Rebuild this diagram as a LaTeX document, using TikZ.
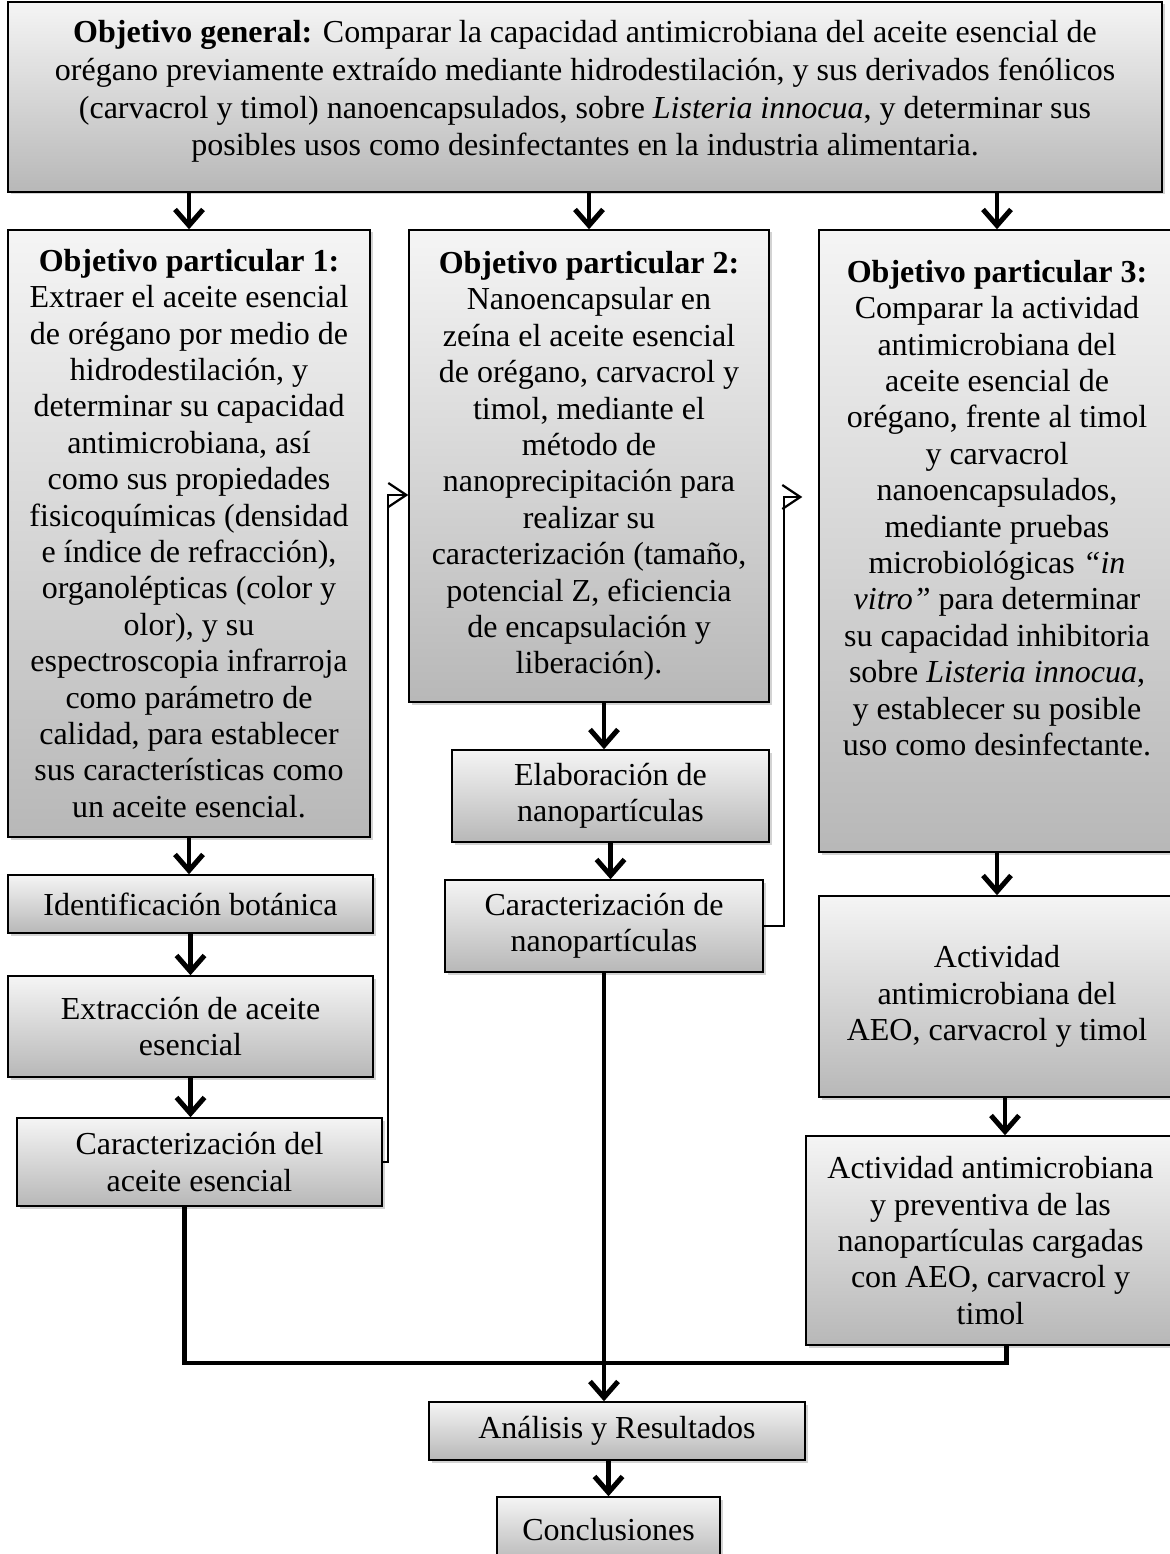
\documentclass[tikz,border=0pt]{standalone}
\usepackage{fontspec}
\setmainfont{Liberation Serif}
\usetikzlibrary{arrows.meta,shadows,calc}
\newcommand{\fsz}{\fontsize{32}{36.4}\selectfont}
\newcommand{\fszt}{\fontsize{32}{37.6}\selectfont}
\begin{document}
\begin{tikzpicture}[x=1pt,y=-1pt,
  box/.style={draw=black, line width=1.5pt, top color=black!4, bottom color=black!28,
    drop shadow={shadow xshift=2.5pt, shadow yshift=-2.5pt, opacity=0.35},
    align=center, inner sep=0pt, font=\fsz},
  arr/.style={line width=4.5pt, -{Straight Barb[length=16pt,width=28pt,line width=5pt]}},
  thinarr/.style={line width=1.6pt, -{Straight Barb[length=18pt,width=24pt,line width=2.2pt]}},
  thickline/.style={line width=4.5pt}]
\useasboundingbox (0,0) rectangle (1169,1554);

\node[box, font=\fszt, minimum width=1154pt, minimum height=190pt] (top) at (585,97)
 {\textbf{Objetivo general:} Comparar la capacidad antimicrobiana del aceite esencial de\\
  orégano previamente extraído mediante hidrodestilación, y sus derivados fenólicos\\
  (carvacrol y timol) nanoencapsulados, sobre \textit{Listeria innocua}, y determinar sus\\
  posibles usos como desinfectantes en la industria alimentaria.\\[-20pt]\mbox{}};

\node[box, minimum width=362pt, minimum height=607pt] (o1) at (189,533.5)
 {\textbf{Objetivo particular 1:}\\
  Extraer el aceite esencial\\
  de orégano por medio de\\
  hidrodestilación, y\\
  determinar su capacidad\\
  antimicrobiana, así\\
  como sus propiedades\\
  fisicoquímicas (densidad\\
  e índice de refracción),\\
  organolépticas (color y\\
  olor), y su\\
  espectroscopia infrarroja\\
  como parámetro de\\
  calidad, para establecer\\
  sus características como\\
  un aceite esencial.};

\node[box, minimum width=360pt, minimum height=472pt] (o2) at (589,466)
 {\textbf{Objetivo particular 2:}\\
  Nanoencapsular en\\
  zeína el aceite esencial\\
  de orégano, carvacrol y\\
  timol, mediante el\\
  método de\\
  nanoprecipitación para\\
  realizar su\\
  caracterización (tamaño,\\
  potencial Z, eficiencia\\
  de encapsulación y\\
  liberación).};

\node[box, minimum width=356pt, minimum height=622pt] (o3) at (997,541)
 {\textbf{Objetivo particular 3:}\\
  Comparar la actividad\\
  antimicrobiana del\\
  aceite esencial de\\
  orégano, frente al timol\\
  y carvacrol\\
  nanoencapsulados,\\
  mediante pruebas\\
  microbiológicas \textit{“in}\\
  \textit{vitro”} para determinar\\
  su capacidad inhibitoria\\
  sobre \textit{Listeria innocua},\\
  y establecer su posible\\
  uso como desinfectante.\\[30pt]\mbox{}};

\node[box, minimum width=365pt, minimum height=58pt] (ib) at (190.5,904)
 {Identificación botánica};
\node[box, minimum width=365pt, minimum height=101pt] (ext) at (190.5,1026.5)
 {Extracción de aceite\\ esencial};
\node[box, minimum width=365pt, minimum height=88pt] (c1) at (199.5,1162)
 {Caracterización del\\ aceite esencial};

\node[box, minimum width=317pt, minimum height=92pt] (elab) at (610.5,796)
 {Elaboración de\\ nanopartículas};
\node[box, minimum width=318pt, minimum height=92pt] (cn) at (604,926)
 {Caracterización de\\ nanopartículas};

\node[box, minimum width=356pt, minimum height=201pt] (act) at (997,996.5)
 {Actividad\\ antimicrobiana del\\ AEO, carvacrol y timol};
\node[box, minimum width=369pt, minimum height=209pt] (act2) at (990.5,1240.5)
 {Actividad antimicrobiana\\ y preventiva de las\\ nanopartículas cargadas\\ con AEO, carvacrol y\\ timol};

\node[box, minimum width=376pt, minimum height=58pt] (anal) at (617,1431)
 {Análisis y Resultados};
\node[box, minimum width=223pt, minimum height=66pt] (conc) at (608.5,1530)
 {Conclusiones};

% arrows from general objective
\draw[arr] (top.south -| o1.north) -- (o1.north);
\draw[arr] (top.south -| o2.north) -- (o2.north);
\draw[arr] (top.south -| o3.north) -- (o3.north);

% column 1
\draw[arr] (o1.south) -- (o1.south |- ib.north);
\draw[arr] (ib.south) -- (ib.south |- ext.north);
\draw[arr] (ext.south) -- (ext.south |- c1.north);

% column 2
\draw[arr] (o2.south -| cn.north) -- (cn.north |- elab.north);
\draw[arr] (elab.south) -- (elab.south |- cn.north);

% column 3
\draw[arr] (o3.south) -- (o3.south |- act.north);
\draw[arr] ([xshift=8pt]act.south) -- ([xshift=8pt]act.south |- act2.north);

% thin feedback connectors
\draw[thinarr] (c1.east) -- ++(5,0) |- ([yshift=-29pt]o2.west);
\draw[thinarr] (cn.east) -- ++(20,0) |- ([xshift=-16pt,yshift=44pt]o3.west);

% merging lines
\coordinate (j) at ($(c1.south)+(-15,156)$);
\draw[thickline] ([xshift=-15pt]c1.south) -- (j) -| ([xshift=16pt]act2.south);
\draw[arr] (cn.south) -- (cn.south |- anal.north);
\draw[arr] (anal.south -| conc.north) -- (conc.north);
\end{tikzpicture}
\end{document}
